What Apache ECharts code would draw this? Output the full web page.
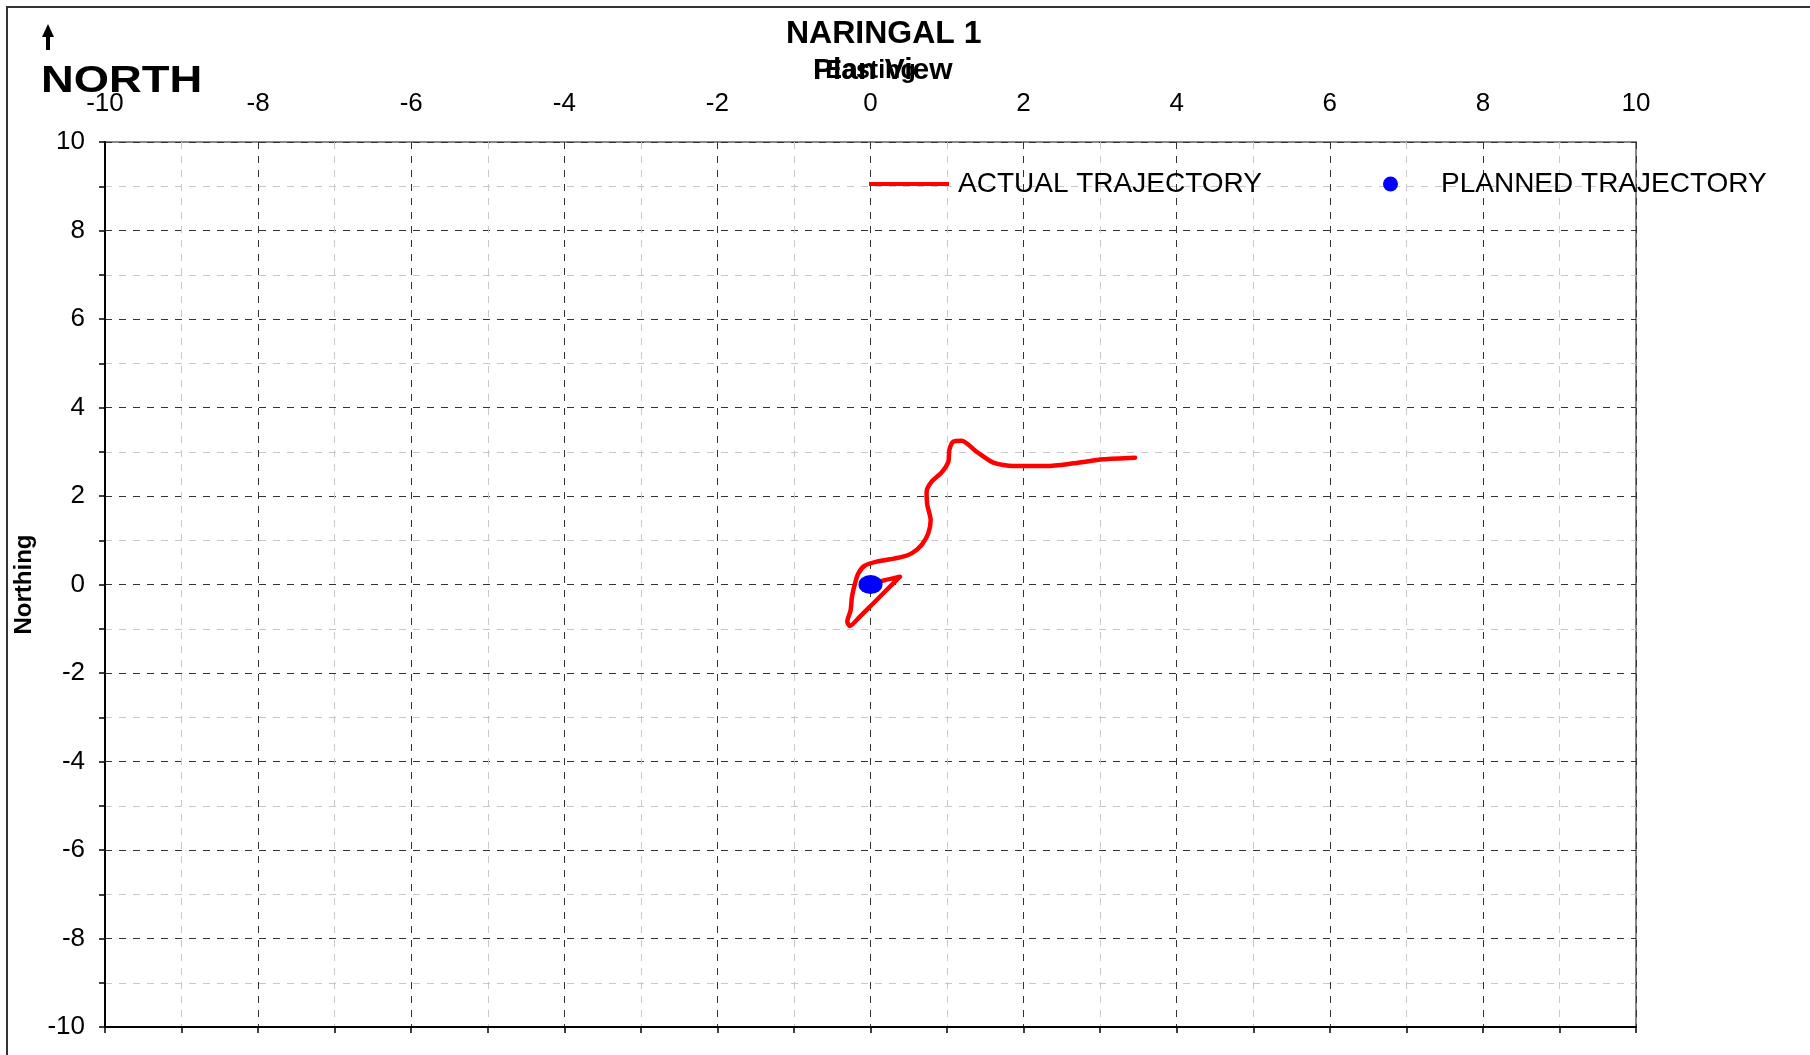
<!DOCTYPE html>
<html>
<head>
<meta charset="utf-8">
<script src="https://cdn.jsdelivr.net/npm/echarts@6/dist/echarts.min.js"></script>
<style>html,body{margin:0;padding:0;background:#fff}#c{width:1810px;height:1055px}</style>
</head>
<body>
<div id="c"></div>
<script>
// ---- data ----
const chartTitle = 'NARINGAL 1';
const chartSubtitle = 'Plan View';
const xAxisName = 'Easting';
const yAxisName = 'Northing';
const tickValues = [-10, -8, -6, -4, -2, 0, 2, 4, 6, 8, 10];
const actualEasting = [0, 0.15, 0.385, 0.21, 0.015, -0.16, -0.268, -0.303, -0.259, -0.242, -0.202, -0.159, -0.081, 0.08, 0.385, 0.538, 0.668, 0.755, 0.786, 0.742, 0.733, 0.799, 0.93, 1.017, 1.03, 1.082, 1.191, 1.387, 1.605, 1.866, 2.301, 2.65, 3.042, 3.456];
const actualNorthing = [0, 0.08, 0.177, -0.124, -0.463, -0.765, -0.938, -0.84, -0.576, -0.275, 0.026, 0.252, 0.418, 0.516, 0.614, 0.704, 0.893, 1.156, 1.458, 1.797, 2.098, 2.324, 2.535, 2.776, 3.04, 3.228, 3.25, 3.0, 2.753, 2.678, 2.678, 2.738, 2.829, 2.866];
const plannedEasting = [0];
const plannedNorthing = [0];
const seriesNames = ['ACTUAL TRAJECTORY', 'PLANNED TRAJECTORY'];

const FONT = 'Liberation Sans, Arial, sans-serif';
const actualData = actualEasting.map((x, i) => [x, actualNorthing[i]]);
const plannedData = plannedEasting.map((x, i) => [x, plannedNorthing[i]]);
const evenLabel = v => tickValues.indexOf(v) >= 0 ? String(v) : '';

const chart = echarts.init(document.getElementById('c'), null, {renderer: 'canvas'});
const splitStyle = {show: true, lineStyle: {color: ['#333333', '#c8c8c8'], type: [7, 7], width: 1}};
chart.setOption({
  backgroundColor: '#ffffff',
  animation: false,
  title: [
    {text: chartTitle, left: 786, top: 18, padding: 0,
     textStyle: {fontFamily: FONT, fontSize: 32, fontWeight: 'bold', color: '#000'}},
    {text: chartSubtitle, left: 813, top: 56, padding: 0,
     textStyle: {fontFamily: FONT, fontSize: 30, fontWeight: 'bold', color: '#000'}}
  ],
  legend: [
    {data: [seriesNames[0]], left: 869, top: 170, padding: 0, icon: 'rect', itemWidth: 80, itemHeight: 4,
     textStyle: {fontFamily: FONT, fontSize: 28, color: '#000', padding: [0, 0, 0, 4]}},
    {data: [seriesNames[1]], left: 1383, top: 170, padding: 0, icon: 'circle', itemWidth: 15, itemHeight: 15,
     textStyle: {fontFamily: FONT, fontSize: 28, color: '#000', padding: [0, 0, 0, 38]}}
  ],
  grid: {left: 105, top: 142, width: 1531, height: 885, show: true, borderColor: '#888', borderWidth: 2, containLabel: false},
  xAxis: [
    {type: 'value', position: 'bottom', min: -10, max: 10, interval: 1,
     axisLine: {show: true, onZero: false, lineStyle: {color: '#000', width: 2}},
     axisTick: {show: true, length: 6, lineStyle: {color: '#000', width: 1.5}},
     axisLabel: {show: false},
     splitLine: splitStyle},
    {type: 'value', position: 'top', min: -10, max: 10, interval: 1,
     name: xAxisName, nameLocation: 'middle', nameGap: 58,
     nameTextStyle: {fontFamily: FONT, fontSize: 25, fontWeight: 'bold', color: '#000'},
     axisLine: {show: false, onZero: false}, axisTick: {show: false},
     axisLabel: {show: true, margin: 25, formatter: evenLabel, fontFamily: FONT, fontSize: 26, color: '#000'},
     splitLine: {show: false}}
  ],
  yAxis: [
    {type: 'value', position: 'left', min: -10, max: 10, interval: 1,
     name: yAxisName, nameLocation: 'middle', nameGap: 63, nameRotate: 90,
     nameTextStyle: {fontFamily: FONT, fontSize: 24, fontWeight: 'bold', color: '#000'},
     axisLine: {show: true, onZero: false, lineStyle: {color: '#000', width: 2}},
     axisTick: {show: true, length: 6, lineStyle: {color: '#000', width: 1.5}},
     axisLabel: {show: true, margin: 20, formatter: evenLabel, fontFamily: FONT, fontSize: 26, color: '#000'},
     splitLine: splitStyle}
  ],
  series: [
    {name: seriesNames[0], type: 'line', data: actualData, smooth: 0.25, showSymbol: false, symbol: 'none',
     xAxisIndex: 0, yAxisIndex: 0, itemStyle: {color: '#ff0000'},
     lineStyle: {color: '#ff0000', width: 4.5, cap: 'round', join: 'round'}, z: 3},
    {name: seriesNames[1], type: 'scatter', data: plannedData, symbol: 'circle', symbolSize: [24, 19],
     xAxisIndex: 0, yAxisIndex: 0, itemStyle: {color: '#0000ff', opacity: 1}, z: 4}
  ],
  graphic: [
    {type: 'rect', shape: {x: 7, y: 7, width: 1900, height: 1100}, style: {fill: 'none', stroke: '#333', lineWidth: 2}, silent: true},
    {type: 'line', shape: {x1: 48, y1: 50, x2: 48, y2: 34}, style: {stroke: '#000', lineWidth: 4}},
    {type: 'polygon', shape: {points: [[42, 37], [54, 37], [48, 24]]}, style: {fill: '#000'}},
    {type: 'text', x: 41, y: 82, scaleX: 1.26, scaleY: 1,
     style: {x: 0, y: 0, text: 'NORTH', fontFamily: FONT, fontSize: 36, fontWeight: 'bold', fill: '#000', align: 'left', verticalAlign: 'middle'}}
  ]
});
</script>
</body>
</html>
